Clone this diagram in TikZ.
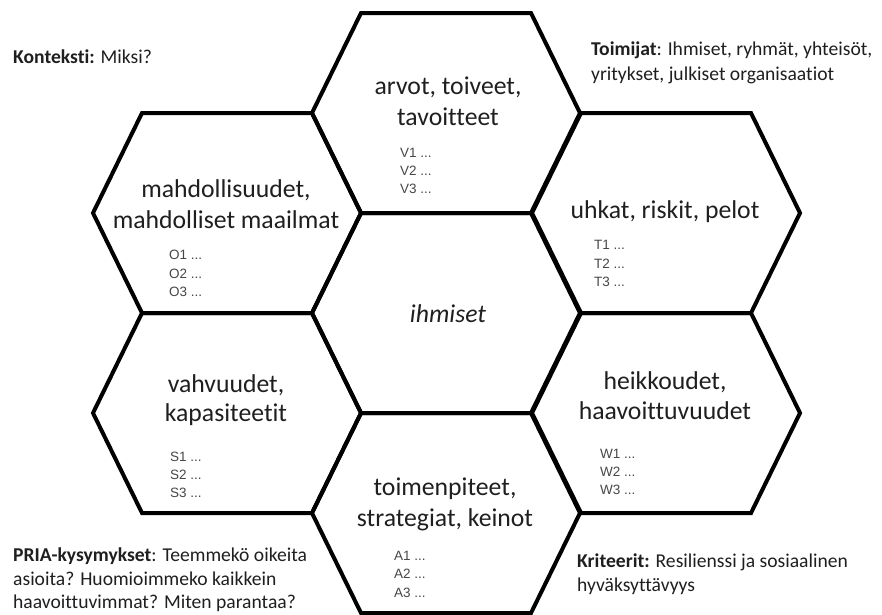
\documentclass[tikz,border=0pt]{standalone}
\usepackage{fontspec}
\setmainfont{Carlito}[RawFeature={-liga}]
\newfontfamily\listfont{Liberation Sans}
\begin{document}
\begin{tikzpicture}[x=1pt,y=-1pt,
  hexline/.style={draw=black,line width=4pt,line join=miter},
  mainlbl/.style={anchor=base,inner sep=0pt,font=\fontsize{25.7}{31}\selectfont,text=black!88},
  listlbl/.style={anchor=base west,inner sep=0pt,font=\listfont\fontsize{13.5}{18}\selectfont,text=black!72},
  cornerlbl/.style={anchor=base west,inner sep=0pt,font=\fontsize{19.6}{24}\selectfont,text=black!88}]
\useasboundingbox (0,0) rectangle (882,614);
\fill[white] (0,0) rectangle (882,614);
% hexagons
\foreach \cx/\cy in {446/113, 227/213, 666/213, 446/313, 227/413, 666/413, 446/513}{
  \draw[hexline] (\cx-134,\cy) -- (\cx-85,\cy-100) -- (\cx+85,\cy-100) -- (\cx+134,\cy)
     -- (\cx+85,\cy+100) -- (\cx-85,\cy+100) -- cycle;
}
% top
\node[mainlbl] (t1) at (448,94) {arvot, toiveet,};
\node[mainlbl] (t2) at (448,125) {tavoitteet};
\node[listlbl] (v1) at (400,157) {V1 ...};
\node[listlbl] (v2) at (400,175) {V2 ...};
\node[listlbl] (v3) at (400,193) {V3 ...};
% upper left
\node[mainlbl] (o1t) at (226,197) {mahdollisuudet,};
\node[mainlbl] (o2t) at (226,228) {mahdolliset maailmat};
\node[listlbl] (o1) at (169,259) {O1 ...};
\node[listlbl] (o2) at (169,278) {O2 ...};
\node[listlbl] (o3) at (169,296) {O3 ...};
% upper right
\node[mainlbl] (u1t) at (665,218) {uhkat, riskit, pelot};
\node[listlbl] (tt1) at (594,249) {T1 ...};
\node[listlbl] (tt2) at (594,268) {T2 ...};
\node[listlbl] (tt3) at (594,286) {T3 ...};
% centre
\node[mainlbl,font=\fontsize{25.7}{31}\selectfont\itshape] (ih) at (448,322) {ihmiset};
% lower left
\node[mainlbl] (s1t) at (226,392) {vahvuudet,};
\node[mainlbl] (s2t) at (226,421) {kapasiteetit};
\node[listlbl] (s1) at (170,461) {S1 ...};
\node[listlbl] (s2) at (170,479) {S2 ...};
\node[listlbl] (s3) at (170,497) {S3 ...};
% lower right
\node[mainlbl] (w1t) at (665,389) {heikkoudet,};
\node[mainlbl] (w2t) at (665,419) {haavoittuvuudet};
\node[listlbl] (w1) at (600,458) {W1 ...};
\node[listlbl] (w2) at (600,476) {W2 ...};
\node[listlbl] (w3) at (600,494) {W3 ...};
% bottom
\node[mainlbl] (a1t) at (445,495) {toimenpiteet,};
\node[mainlbl] (a2t) at (445,526) {strategiat, keinot};
\node[listlbl] (a1) at (394,560) {A1 ...};
\node[listlbl] (a2) at (394,578) {A2 ...};
\node[listlbl] (a3) at (394,597) {A3 ...};
% corner texts
\node[cornerlbl] (k1) at (13,63) {\textbf{Konteksti:} Miksi?};
\node[cornerlbl] (m1) at (591,55) {\textbf{Toimijat}: Ihmiset, ryhmät, yhteisöt,};
\node[cornerlbl] (m2) at (591,80) {yritykset, julkiset organisaatiot};
\node[cornerlbl] (p1) at (13,561) {\textbf{PRIA-kysymykset}: Teemmekö oikeita};
\node[cornerlbl] (p2) at (13,585) {asioita? Huomioimmeko kaikkein};
\node[cornerlbl] (p3) at (13,608) {haavoittuvimmat? Miten parantaa?};
\node[cornerlbl] (c1) at (577,567) {\textbf{Kriteerit:} Resilienssi ja sosiaalinen};
\node[cornerlbl] (c2) at (577,591) {hyväksyttävyys};
\end{tikzpicture}
\end{document}
